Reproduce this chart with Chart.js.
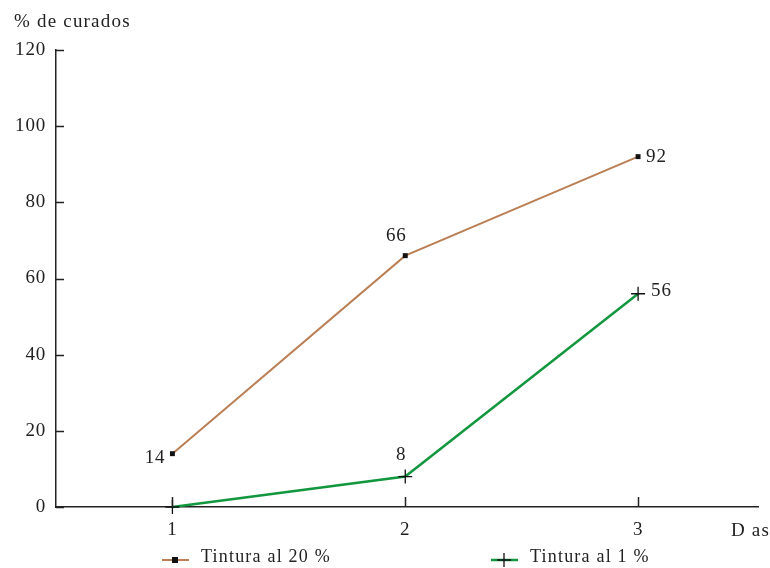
<!DOCTYPE html>
<html>
<head>
<meta charset="utf-8">
<script src="https://cdn.jsdelivr.net/npm/chart.js@4"></script>
<style>
  html, body { margin: 0; padding: 0; background: #fff; }
  #wrap { width: 770px; height: 568px; }
</style>
</head>
<body>
<div id="wrap"><canvas id="myChart" width="770" height="568"></canvas></div>
<script>
// datos
const dias = [1, 2, 3];
const tintura20 = [14, 66, 92];
const tintura1 = [0, 8, 56];
const yTicks = [0, 20, 40, 60, 80, 100, 120];
const nombres = ['Tintura al 20 %', 'Tintura al 1 %'];
const tituloY = '% de curados';
const tituloX = 'D as';

const FONT = '"Liberation Serif", "DejaVu Serif", serif';
const TXT = '#222';

// donde va cada etiqueta respecto al punto (dx, dy, align)
const etiquetas20 = [[-7, 4, 'right'], [-9, -20, 'center'], [8, 0, 'left']];
const etiquetas1 = [null, [-4, -22, 'center'], [13, -3, 'left']];

function puntos(ys) {
  return dias.map((d, i) => ({ x: d, y: ys[i] }));
}

const espaciado = {
  id: 'espaciado',
  beforeInit(chart) { chart.ctx.letterSpacing = '0.8px'; },
  beforeDraw(chart) { chart.ctx.letterSpacing = '0.8px'; }
};

// marcas de los ejes hacia dentro
const marcas = {
  id: 'marcas',
  afterDatasetsDraw(chart) {
    const ctx = chart.ctx;
    const x = chart.scales.x, y = chart.scales.y;
    ctx.save();
    ctx.strokeStyle = '#222';
    ctx.lineWidth = 1.5;
    ctx.beginPath();
    y.ticks.forEach(t => {
      const py = Math.round(y.getPixelForValue(t.value)) + 0.5;
      ctx.moveTo(x.left, py);
      ctx.lineTo(x.left + 8, py);
    });
    x.ticks.forEach(t => {
      const px = Math.round(x.getPixelForValue(t.value)) + 0.5;
      ctx.moveTo(px, y.bottom);
      ctx.lineTo(px, y.bottom - 10);
    });
    ctx.stroke();
    ctx.restore();
  }
};

const textos = {
  id: 'textos',
  afterDraw(chart) {
    const ctx = chart.ctx;
    ctx.save();
    ctx.letterSpacing = '1.2px';
    ctx.fillStyle = TXT;
    ctx.font = '19px ' + FONT;
    ctx.textBaseline = 'middle';

    // titulos de los ejes
    ctx.textAlign = 'left';
    ctx.fillText(tituloY, 14, 22);
    ctx.fillText(tituloX, 731, 531);

    // etiquetas de valores
    ctx.letterSpacing = '0.8px';
    const lotes = [etiquetas20, etiquetas1];
    chart.data.datasets.forEach((ds, di) => {
      const meta = chart.getDatasetMeta(di);
      ds.data.forEach((p, i) => {
        const e = lotes[di][i];
        if (!e) return;
        const el = meta.data[i];
        ctx.textAlign = e[2];
        ctx.fillText(String(p.y), el.x + e[0], el.y + e[1]);
      });
    });

    // leyenda
    ctx.letterSpacing = '1.2px';
    const posLeyenda = [162, 491];
    const yl = 560;
    chart.data.datasets.forEach((ds, di) => {
      const x0 = posLeyenda[di];
      ctx.strokeStyle = ds.borderColor;
      ctx.lineWidth = ds.borderWidth;
      ctx.beginPath();
      ctx.moveTo(x0, yl);
      ctx.lineTo(x0 + 27, yl);
      ctx.stroke();
      const cx = x0 + 13;
      if (ds.pointStyle === 'rect') {
        ctx.fillStyle = '#111';
        ctx.fillRect(cx - 3, yl - 3, 6, 6);
      } else {
        ctx.strokeStyle = '#111';
        ctx.lineWidth = 1.3;
        ctx.beginPath();
        ctx.moveTo(cx - 7, yl); ctx.lineTo(cx + 7, yl);
        ctx.moveTo(cx, yl - 7); ctx.lineTo(cx, yl + 7);
        ctx.stroke();
      }
      ctx.fillStyle = TXT;
      ctx.textAlign = 'left';
      ctx.font = '18px ' + FONT;
      ctx.fillText(ds.label, x0 + 39, yl - 3);
    });
    ctx.restore();
  }
};

const ctx = document.getElementById('myChart');

const myChart = new Chart(ctx, {
  type: 'line',
  data: {
    datasets: [{
      label: nombres[0],
      data: puntos(tintura20),
      borderColor: '#BA7F55',
      borderWidth: 2,
      pointStyle: 'rect',
      pointRadius: 3.5,
      pointBackgroundColor: '#111',
      pointBorderColor: '#111',
      pointBorderWidth: 0,
      clip: false
    }, {
      label: nombres[1],
      data: puntos(tintura1),
      borderColor: '#12973F',
      borderWidth: 2.5,
      pointStyle: 'cross',
      pointRadius: 7,
      pointBorderColor: '#111',
      pointBorderWidth: 1.3,
      clip: false
    }]
  },
  options: {
    responsive: false,
    animation: false,
    layout: { padding: { top: 50, right: 12, left: 0, bottom: 0 } },
    plugins: {
      legend: { display: false },
      tooltip: { enabled: false }
    },
    scales: {
      x: {
        type: 'linear',
        min: 0.5,
        max: 3.515,
        afterBuildTicks: s => { s.ticks = dias.map(v => ({ value: v })); },
        afterFit: s => { s.height = 61; },
        grid: { drawOnChartArea: false, drawTicks: false },
        border: { color: '#222', width: 1.5 },
        ticks: {
          padding: 12,
          color: TXT,
          font: { family: FONT, size: 19 },
          callback: v => String(v)
        }
      },
      y: {
        min: 0,
        max: 120,
        afterBuildTicks: s => { s.ticks = yTicks.map(v => ({ value: v })); },
        afterFit: s => { s.width = 56; },
        grid: { drawOnChartArea: false, drawTicks: false },
        border: { color: '#222', width: 1.5 },
        ticks: {
          padding: 10,
          color: TXT,
          font: { family: FONT, size: 19 }
        }
      }
    }
  },
  plugins: [espaciado, marcas, textos]
});
</script>
</body>
</html>
